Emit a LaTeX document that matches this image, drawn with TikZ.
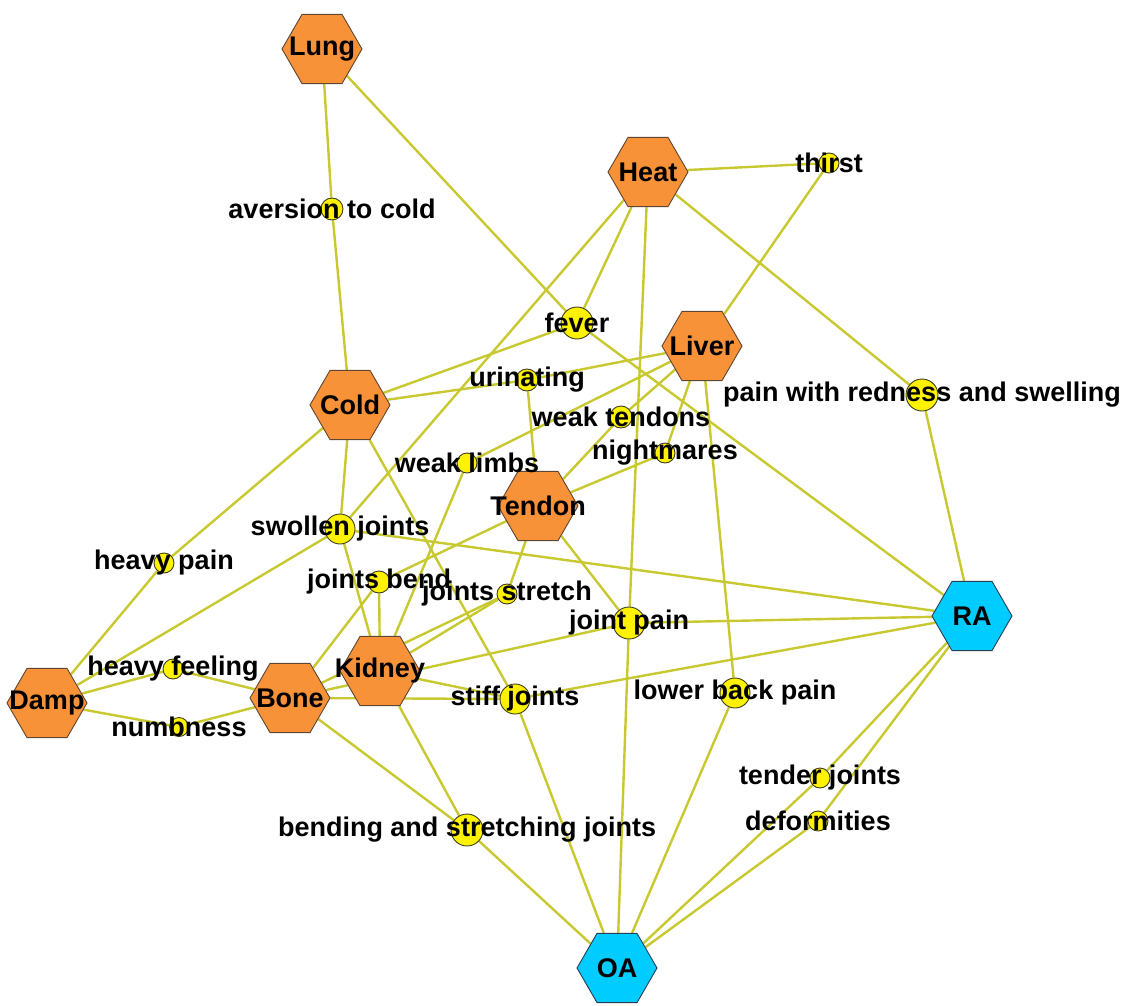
\documentclass[tikz,border=0pt]{standalone}
\usepackage{fontspec}
\setmainfont{Liberation Sans}
\usetikzlibrary{shapes.geometric,backgrounds}
\definecolor{edgecol}{RGB}{200,200,48}
\definecolor{hubcol}{RGB}{247,146,57}
\definecolor{hubline}{RGB}{95,70,50}
\definecolor{discol}{RGB}{0,204,255}
\definecolor{disline}{RGB}{40,60,85}
\definecolor{symline}{RGB}{60,60,30}

\begin{document}
\begin{tikzpicture}[x=1pt,y=-1pt,
  link/.style={draw=edgecol,line width=2.4pt},
  hub/.style={regular polygon,regular polygon sides=6,minimum size=80pt,inner sep=0pt,
    fill=hubcol,draw=hubline,line width=0.9pt},
  dis/.style={hub,fill=discol,draw=disline},
  sym/.style={circle,inner sep=0pt,minimum size=#1,fill=yellow,draw=symline,line width=0.9pt},
  sym/.default=20pt,
  every label/.style={font=\fontsize{27}{30}\selectfont\bfseries,inner sep=0pt}]
  \useasboundingbox (0,0) rectangle (1132,1006);

  % organs and causes
  \node[hub,label=center:Lung] (lung) at (322,49) {};
  \node[hub,label=center:Heat] (heat) at (648,172) {};
  \node[hub,label=center:Cold] (cold) at (350,405) {};
  \node[hub,label=center:Liver] (liver) at (702,346) {};
  \node[hub,label=center:Tendon] (tendon) at (538,506) {};
  \node[hub,label=center:Kidney] (kidney) at (380,671) {};
  \node[hub,label=center:Bone] (bone) at (290,698) {};
  \node[hub,label=center:Damp] (damp) at (47,703) {};
  \node[dis,label=center:RA] (ra) at (972,616) {};
  \node[dis,label=center:OA] (oa) at (617,968) {};

  % symptoms
  \node[sym=22pt,label=center:{aversion to cold}] (avers) at (332,209) {};
  \node[sym,label=center:thirst] (thirst) at (829,163) {};
  \node[sym=32pt,label=center:fever] (fever) at (577,323) {};
  \node[sym=22pt,label=center:urinating] (urin) at (527,380) {};
  \node[sym=32pt,label=center:{pain with redness and swelling}] (redness) at (922,395) {};
  \node[sym=22pt,label=center:{weak tendons}] (weakten) at (621,417) {};
  \node[sym,label=center:nightmares] (night) at (665,453) {};
  \node[sym,label=center:{weak limbs}] (weaklimb) at (467,463) {};
  \node[sym=30pt,label=center:{swollen joints}] (swollen) at (340,529) {};
  \node[sym,label=center:{heavy pain}] (heavyp) at (164,563) {};
  \node[sym=22pt,label=center:{joints bend}] (jbend) at (379,582) {};
  \node[sym,label=center:{joints stretch}] (jstretch) at (507,594) {};
  \node[sym=32pt,label=center:{joint pain}] (jpain) at (629,623) {};
  \node[sym,label=center:{heavy feeling}] (heavyf) at (173,669) {};
  \node[sym=30pt,label=center:{stiff joints}] (stiff) at (515,699) {};
  \node[sym=30pt,label=center:{lower back pain}] (lback) at (735,693) {};
  \node[sym=19pt,label=center:numbness] (numb) at (179,727) {};
  \node[sym,label=center:{tender joints}] (tender) at (820,778) {};
  \node[sym,label=center:deformities] (deform) at (818,821) {};
  \node[sym=32pt,label=center:{bending and stretching joints}] (bendstr) at (467,830) {};

  \begin{scope}[on background layer]
    \foreach \a/\b in {lung/avers,avers/cold,lung/fever,
        heat/thirst,heat/fever,heat/swollen,heat/jpain,heat/redness,
        thirst/liver,redness/ra,fever/ra,cold/fever,cold/urin,urin/liver,urin/tendon,
        cold/heavyp,heavyp/damp,cold/swollen,cold/stiff,
        liver/weaklimb,liver/weakten,weakten/tendon,liver/night,night/tendon,liver/lback,
        tendon/jbend,tendon/jstretch,tendon/jpain,
        damp/swollen,damp/heavyf,damp/numb,heavyf/bone,numb/bone,
        swollen/kidney,swollen/ra,jbend/kidney,jbend/bone,weaklimb/kidney,
        kidney/jstretch,bone/jstretch,bone/jpain,kidney/stiff,bone/stiff,
        kidney/bendstr,bone/bendstr,
        jpain/ra,jpain/oa,stiff/ra,stiff/oa,bendstr/oa,lback/oa,
        ra/tender,tender/oa,ra/deform,deform/oa}
      \draw[link] (\a) -- (\b);
  \end{scope}
\end{tikzpicture}
\end{document}
